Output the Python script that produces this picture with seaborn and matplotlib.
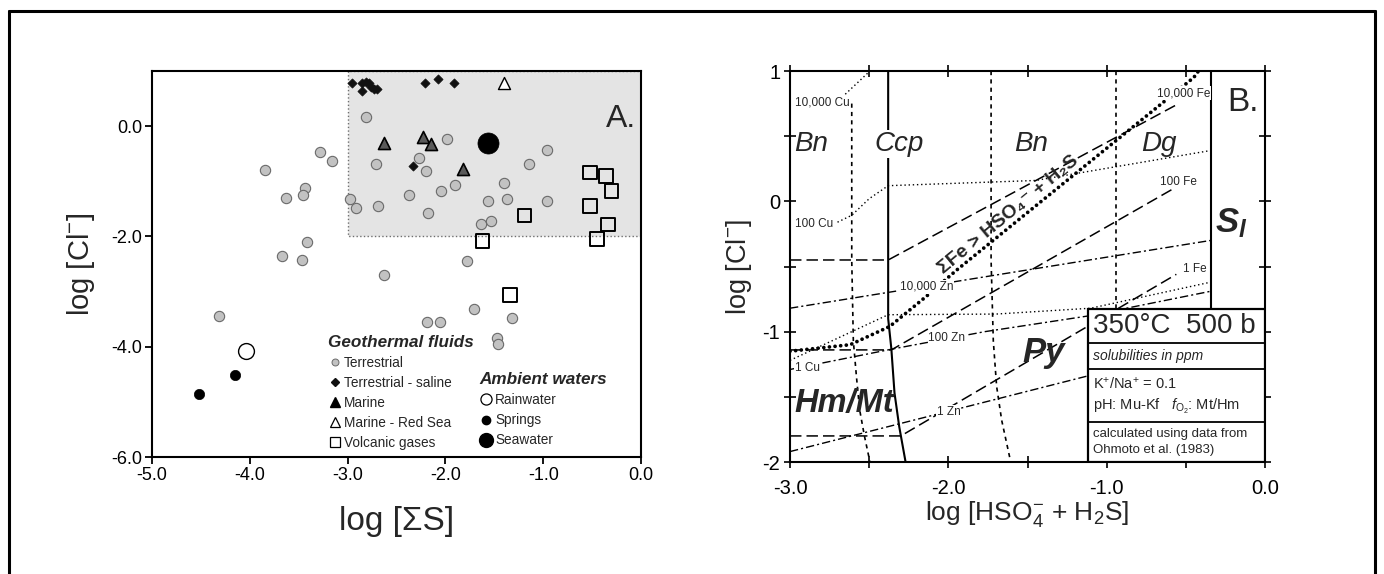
import numpy as np
import pandas as pd
import matplotlib
matplotlib.use("Agg")
import matplotlib.pyplot as plt
import seaborn as sns
from matplotlib.lines import Line2D
from matplotlib.patches import Rectangle
from matplotlib.ticker import MultipleLocator, FuncFormatter

# ---------------- panel A data (log S vs log Cl) ----------------
terr_x = [-2.81, -3.28, -3.16, -3.84, -3.44, -3.46, -3.63, -2.98, -2.91, -2.69,
          -2.71, -2.27, -2.20, -1.98, -2.37, -2.18, -2.05, -1.90, -1.40, -1.56,
          -1.37, -1.15, -0.96, -0.96, -1.64, -1.53, -3.42, -3.67, -3.47, -1.78,
          -2.63, -4.31, -2.19, -2.06, -1.71, -1.32, -1.47, -1.46]
terr_y = [0.17, -0.47, -0.64, -0.80, -1.13, -1.24, -1.30, -1.32, -1.48, -1.44,
          -0.68, -0.57, -0.81, -0.24, -1.24, -1.58, -1.18, -1.07, -1.04, -1.35,
          -1.32, -0.68, -0.44, -1.35, -1.78, -1.72, -2.11, -2.35, -2.42, -2.45,
          -2.70, -3.45, -3.55, -3.55, -3.32, -3.48, -3.85, -3.95]

saline_x = [-2.96, -2.85, -2.81, -2.78, -2.85, -2.76, -2.73, -2.70, -2.21, -2.08, -1.91, -2.33]
saline_y = [0.79, 0.79, 0.80, 0.79, 0.63, 0.71, 0.68, 0.68, 0.79, 0.85, 0.79, -0.72]

marine_x = [-2.63, -2.23, -2.15, -1.82]
marine_y = [-0.30, -0.19, -0.33, -0.77]

redsea_x = [-1.40]
redsea_y = [0.79]

volc_x = [-0.52, -0.36, -0.30, -0.52, -0.34, -0.45, -1.19, -1.62, -1.34]
volc_y = [-0.84, -0.90, -1.18, -1.45, -1.78, -2.05, -1.62, -2.08, -3.06]

rain_x, rain_y = [-4.04], [-4.07]
spring_x, spring_y = [-4.15, -4.52], [-4.51, -4.86]
sea_x, sea_y = [-1.56], [-0.30]

# shaded field of geothermal fluids
field_x = [-3.0, 0.0]
field_y = [-2.0, 1.0]

a_xticks = [-5.0, -4.0, -3.0, -2.0, -1.0, 0.0]
a_xlabels = ["-5.0", "-4.0", "-3.0", "-2.0", "-1.0", "0.0"]
a_yticks = [-6.0, -4.0, -2.0, 0.0]
a_ylabels = ["-6.0", "-4.0", "-2.0", "0.0"]

# ---------------- panel B data (phase boundaries, solubility contours) ----------------
ccp_x = [-2.38, -2.38, -2.36, -2.34, -2.31, -2.27]
ccp_y = [1.0, -0.90, -1.13, -1.47, -1.73, -2.0]
sl_x = [-0.343, -0.343]
sl_y = [1.0, -2.0]

bnd1_x = [-2.61, -2.61, -2.60, -2.58, -2.56, -2.53, -2.495]
bnd1_y = [0.75, -0.45, -1.07, -1.35, -1.60, -1.80, -2.0]
bnd2_x = [-1.73, -1.73, -1.716, -1.695, -1.663, -1.606]
bnd2_y = [1.0, -0.45, -1.07, -1.42, -1.68, -2.0]
bnd3_x = [-0.94, -0.94]
bnd3_y = [1.0, -0.85]

fe4_x = [-3.0, -2.38, -0.56]
fe4_y = [-0.45, -0.45, 0.74]
fe2_x = [-3.0, -2.36, -0.56]
fe2_y = [-1.14, -1.14, 0.11]
fe0_x = [-3.0, -2.30, -0.56]
fe0_y = [-1.80, -1.80, -0.56]

zn4_x = [-3.0, -0.343]
zn4_y = [-0.82, -0.30]
zn2_x = [-3.0, -2.34, -1.77, -1.12, -0.343]
zn2_y = [-1.29, -1.13, -1.00, -0.88, -0.69]
zn0_x = [-3.0, -0.343]
zn0_y = [-1.92, -1.10]

cu4_x = [-2.67, -2.495]
cu4_y = [0.80, 1.0]
cu2_x = [-2.70, -2.61, -2.50, -2.38, -1.45, -0.343]
cu2_y = [-0.16, -0.107, 0.02, 0.12, 0.16, 0.39]
cu0_x = [-3.0, -2.38, -1.70, -1.10, -0.343]
cu0_y = [-1.22, -0.87, -0.865, -0.82, -0.62]

sfe_x = [-3.0, -2.62, -2.37, -2.14, -1.95, -1.20, -0.45, -0.42]
sfe_y = [-1.15, -1.10, -0.96, -0.73, -0.53, 0.21, 0.95, 1.0]

# info table rows (y limits of the cells)
table_x = [-1.116, 0.0]
table_rows = [-0.823, -1.087, -1.283, -1.69, -2.0]

# ---------------- style ----------------
sns.set_theme(style="white")
plt.rcParams['font.family'] = ['Liberation Sans', 'DejaVu Sans']
plt.rcParams['mathtext.fontset'] = 'custom'
plt.rcParams['mathtext.rm'] = 'Liberation Sans'
plt.rcParams['mathtext.it'] = 'Liberation Sans:italic'
plt.rcParams['mathtext.bf'] = 'Liberation Sans:italic:bold'
plt.rcParams['axes.edgecolor'] = 'black'
plt.rcParams['axes.linewidth'] = 1.5

fig = plt.figure(figsize=(13.84, 5.74), dpi=100)
fig.patch.set_facecolor('white')

# outer frame of the plate
W, H = 1384.0, 574.0
for xs, ys in [([9 / W, 9 / W], [-0.02, 1 - 11 / H]),
               ([9 / W, 1375 / W], [1 - 11 / H, 1 - 11 / H]),
               ([1375 / W, 1375 / W], [1 - 11 / H, -0.02])]:
    fig.add_artist(Line2D(xs, ys, transform=fig.transFigure, color='black', lw=2.2))

axA = fig.add_axes([152 / W, 1 - 457 / H, 489 / W, 386 / H])
axB = fig.add_axes([790 / W, 1 - 462 / H, 475 / W, 391 / H])

# ================= panel A =================
axA.fill_between(field_x, field_y[0], field_y[1], facecolor='#e4e4e4',
                 edgecolor='#6f6f6f', linestyle=':', linewidth=1.0, zorder=0)

sns.scatterplot(x=terr_x, y=terr_y, ax=axA, legend=False, zorder=3,
                marker='o', s=55, color='#c2c2c2', edgecolor='#6a6a6a', linewidth=0.8)
sns.scatterplot(x=saline_x, y=saline_y, ax=axA, legend=False, zorder=4,
                marker='D', s=22, color='#111111', edgecolor='#111111', linewidth=0.5)
sns.scatterplot(x=marine_x, y=marine_y, ax=axA, legend=False, zorder=4,
                marker='^', s=75, color='#5a5a5a', edgecolor='black', linewidth=1.2)
sns.scatterplot(x=redsea_x, y=redsea_y, ax=axA, legend=False, zorder=4,
                marker='^', s=75, color='white', edgecolor='black', linewidth=1.0)
sns.scatterplot(x=volc_x, y=volc_y, ax=axA, legend=False, zorder=4,
                marker='s', s=95, color='none', edgecolor='black', linewidth=1.4)
sns.scatterplot(x=rain_x, y=rain_y, ax=axA, legend=False, zorder=4,
                marker='o', s=130, color='white', edgecolor='black', linewidth=1.0)
sns.scatterplot(x=spring_x, y=spring_y, ax=axA, legend=False, zorder=4,
                marker='o', s=55, color='black', edgecolor='black', linewidth=0.5)
sns.scatterplot(x=sea_x, y=sea_y, ax=axA, legend=False, zorder=4,
                marker='o', s=230, color='black', edgecolor='black', linewidth=0.5)

axA.set_xlim(-5, 0)
axA.set_ylim(-6, 1)
axA.set_xticks(a_xticks)
axA.set_xticklabels(a_xlabels)
axA.set_yticks(a_yticks)
axA.set_yticklabels(a_ylabels)
axA.tick_params(direction='out', length=5, width=1.3, labelsize=13, pad=2,
                bottom=True, left=True, top=False, right=False, colors='black')
axA.set_xlabel('log [ΣS]', fontsize=24, labelpad=16)
axA.set_ylabel('log [Cl$^{-}$]', fontsize=21, labelpad=10)
axA.text(0.99, 0.875, 'A.', transform=axA.transAxes, fontsize=23,
         ha='right', va='center')

geo_handles = [
    Line2D([], [], ls='none', marker='o', ms=5, mfc='#c2c2c2', mec='#6a6a6a', mew=0.7, label='Terrestrial'),
    Line2D([], [], ls='none', marker='D', ms=4, mfc='#111111', mec='#111111', label='Terrestrial - saline'),
    Line2D([], [], ls='none', marker='^', ms=6.5, mfc='black', mec='black', label='Marine'),
    Line2D([], [], ls='none', marker='^', ms=6.5, mfc='white', mec='black', mew=0.9, label='Marine - Red Sea'),
    Line2D([], [], ls='none', marker='s', ms=7, mfc='white', mec='black', mew=0.9, label='Volcanic gases'),
]
amb_handles = [
    Line2D([], [], ls='none', marker='o', ms=8, mfc='white', mec='black', mew=0.9, label='Rainwater'),
    Line2D([], [], ls='none', marker='o', ms=6, mfc='black', mec='black', label='Springs'),
    Line2D([], [], ls='none', marker='o', ms=10, mfc='black', mec='black', label='Seawater'),
]
leg_kw = dict(loc='upper left', frameon=False, fontsize=9.8, alignment='left',
              title_fontproperties={'weight': 'bold', 'style': 'italic', 'size': 12.3},
              handletextpad=0.15, handlelength=1.0, labelspacing=0.45,
              borderpad=0, borderaxespad=0)
legGeo = axA.legend(handles=geo_handles, title='Geothermal fluids',
                    bbox_to_anchor=(0.36, 0.317), **leg_kw)
axA.add_artist(legGeo)
axA.legend(handles=amb_handles, title='Ambient waters',
           bbox_to_anchor=(0.67, 0.22), **leg_kw)

# ================= panel B =================
def draw(xs, ys, ls, lw=1.1, **kw):
    sns.lineplot(x=xs, y=ys, ax=axB, sort=False, estimator=None, color='black',
                 linewidth=lw, linestyle=ls, zorder=2, **kw)

solid = '-'
short_dash = (0, (2.5, 2.5))
long_dash = (0, (7.5, 3.3))
dash_dot = (0, (6.0, 2.2, 1.5, 2.2))
fine_dot = (0, (1.0, 2.0))

draw(ccp_x, ccp_y, solid, lw=1.5)
draw(sl_x, sl_y, solid, lw=1.5)
for bx, by in [(bnd1_x, bnd1_y), (bnd2_x, bnd2_y), (bnd3_x, bnd3_y)]:
    draw(bx, by, short_dash, lw=1.2)
for fx, fy in [(fe4_x, fe4_y), (fe2_x, fe2_y), (fe0_x, fe0_y)]:
    draw(fx, fy, long_dash, lw=1.1)
for zx, zy in [(zn4_x, zn4_y), (zn2_x, zn2_y), (zn0_x, zn0_y)]:
    draw(zx, zy, dash_dot, lw=1.0)
for cx, cy in [(cu4_x, cu4_y), (cu2_x, cu2_y), (cu0_x, cu0_y)]:
    draw(cx, cy, fine_dot, lw=1.0)
draw(sfe_x, sfe_y, (0, (0.01, 1.5)), lw=2.7, dash_capstyle='round')

# field labels
axB.text(-2.87, 0.44, 'Bn', style='italic', fontsize=20, ha='center', va='center', zorder=4)
axB.text(-2.31, 0.44, 'Ccp', style='italic', fontsize=20, ha='center', va='center', zorder=4,
         bbox=dict(fc='white', ec='none', pad=1))
axB.text(-1.48, 0.44, 'Bn', style='italic', fontsize=20, ha='center', va='center', zorder=4)
axB.text(-0.67, 0.44, 'Dg', style='italic', fontsize=20, ha='center', va='center', zorder=4)
axB.text(-0.21, -0.17, r'$\mathbf{S_l}$', fontsize=25, ha='center', va='center', zorder=4)
axB.text(-2.66, -1.55, 'Hm/Mt', style='italic', weight='bold', fontsize=23.5,
         ha='center', va='center', zorder=4)
axB.text(-1.40, -1.16, 'Py', style='italic', weight='bold', fontsize=25,
         ha='center', va='center', zorder=4)
axB.text(-0.14, 0.76, 'B.', fontsize=24, ha='center', va='center', zorder=4)
axB.text(-1.62, -0.10, 'ΣFe > HSO₄⁻ + H₂S', weight='bold', fontsize=14,
         rotation=39.5, rotation_mode='anchor', ha='center', va='center', zorder=4)

# contour labels
contour_labels = [
    ('10,000 Cu', -2.97, 0.762), ('100 Cu', -2.97, -0.171), ('1 Cu', -2.97, -1.275),
    ('10,000 Fe', -0.684, 0.83), ('100 Fe', -0.663, 0.149), ('1 Fe', -0.516, -0.516),
    ('10,000 Zn', -2.305, -0.656), ('100 Zn', -2.126, -1.05), ('1 Zn', -2.074, -1.615),
]
for txt, lx, ly in contour_labels:
    axB.text(lx, ly, txt, fontsize=8.5, ha='left', va='center', zorder=4,
             bbox=dict(fc='white', ec='none', pad=0.6))

# info table
axB.add_patch(Rectangle((table_x[0], table_rows[-1]), table_x[1] - table_x[0],
                        table_rows[0] - table_rows[-1], facecolor='white',
                        edgecolor='black', linewidth=1.6, zorder=5))
for ry in table_rows[1:-1]:
    axB.plot(table_x, [ry, ry], color='black', lw=1.3, zorder=6)
tx = table_x[0] + 0.03
axB.text(tx, -0.955, '350°C  500 b', fontsize=20, ha='left', va='center', zorder=7)
axB.text(tx, -1.186, 'solubilities in ppm', style='italic', fontsize=10, ha='left', va='center', zorder=7)
axB.text(tx, -1.40, 'K$^{+}$/Na$^{+}$ = 0.1', fontsize=10.5, ha='left', va='center', zorder=7)
axB.text(tx, -1.577, r'pH: Mu-Kf   $f_{\mathrm{O}_2}$: Mt/Hm', fontsize=10.5, ha='left',
         va='center', zorder=7)
axB.text(tx, -1.786, 'calculated using data from', fontsize=9.5, ha='left', va='center', zorder=7)
axB.text(tx, -1.909, 'Ohmoto et al. (1983)', fontsize=9.5, ha='left', va='center', zorder=7)

axB.set_xlim(-3, 0)
axB.set_ylim(-2, 1)
axB.xaxis.set_major_locator(MultipleLocator(0.5))
axB.yaxis.set_major_locator(MultipleLocator(0.5))
axB.xaxis.set_major_formatter(FuncFormatter(
    lambda v, p: f"{v:.1f}".replace('-0.0', '0.0') if abs(v - round(v)) < 1e-6 else ''))
axB.yaxis.set_major_formatter(FuncFormatter(
    lambda v, p: f"{int(round(v))}" if abs(v - round(v)) < 1e-6 else ''))
axB.tick_params(axis='both', direction='inout', length=8, width=1.2, labelsize=14.5,
                top=True, right=True, bottom=True, left=True, colors='black')
axB.tick_params(axis='x', pad=8)
axB.tick_params(axis='y', pad=3)
axB.set_xlabel('log [HSO$_4^{-}$ + H$_2$S]', fontsize=19, labelpad=1)
axB.set_ylabel('log [Cl$^{-}$]', fontsize=19.5, labelpad=6)

fig.savefig('out.png', dpi=100, facecolor='white')
